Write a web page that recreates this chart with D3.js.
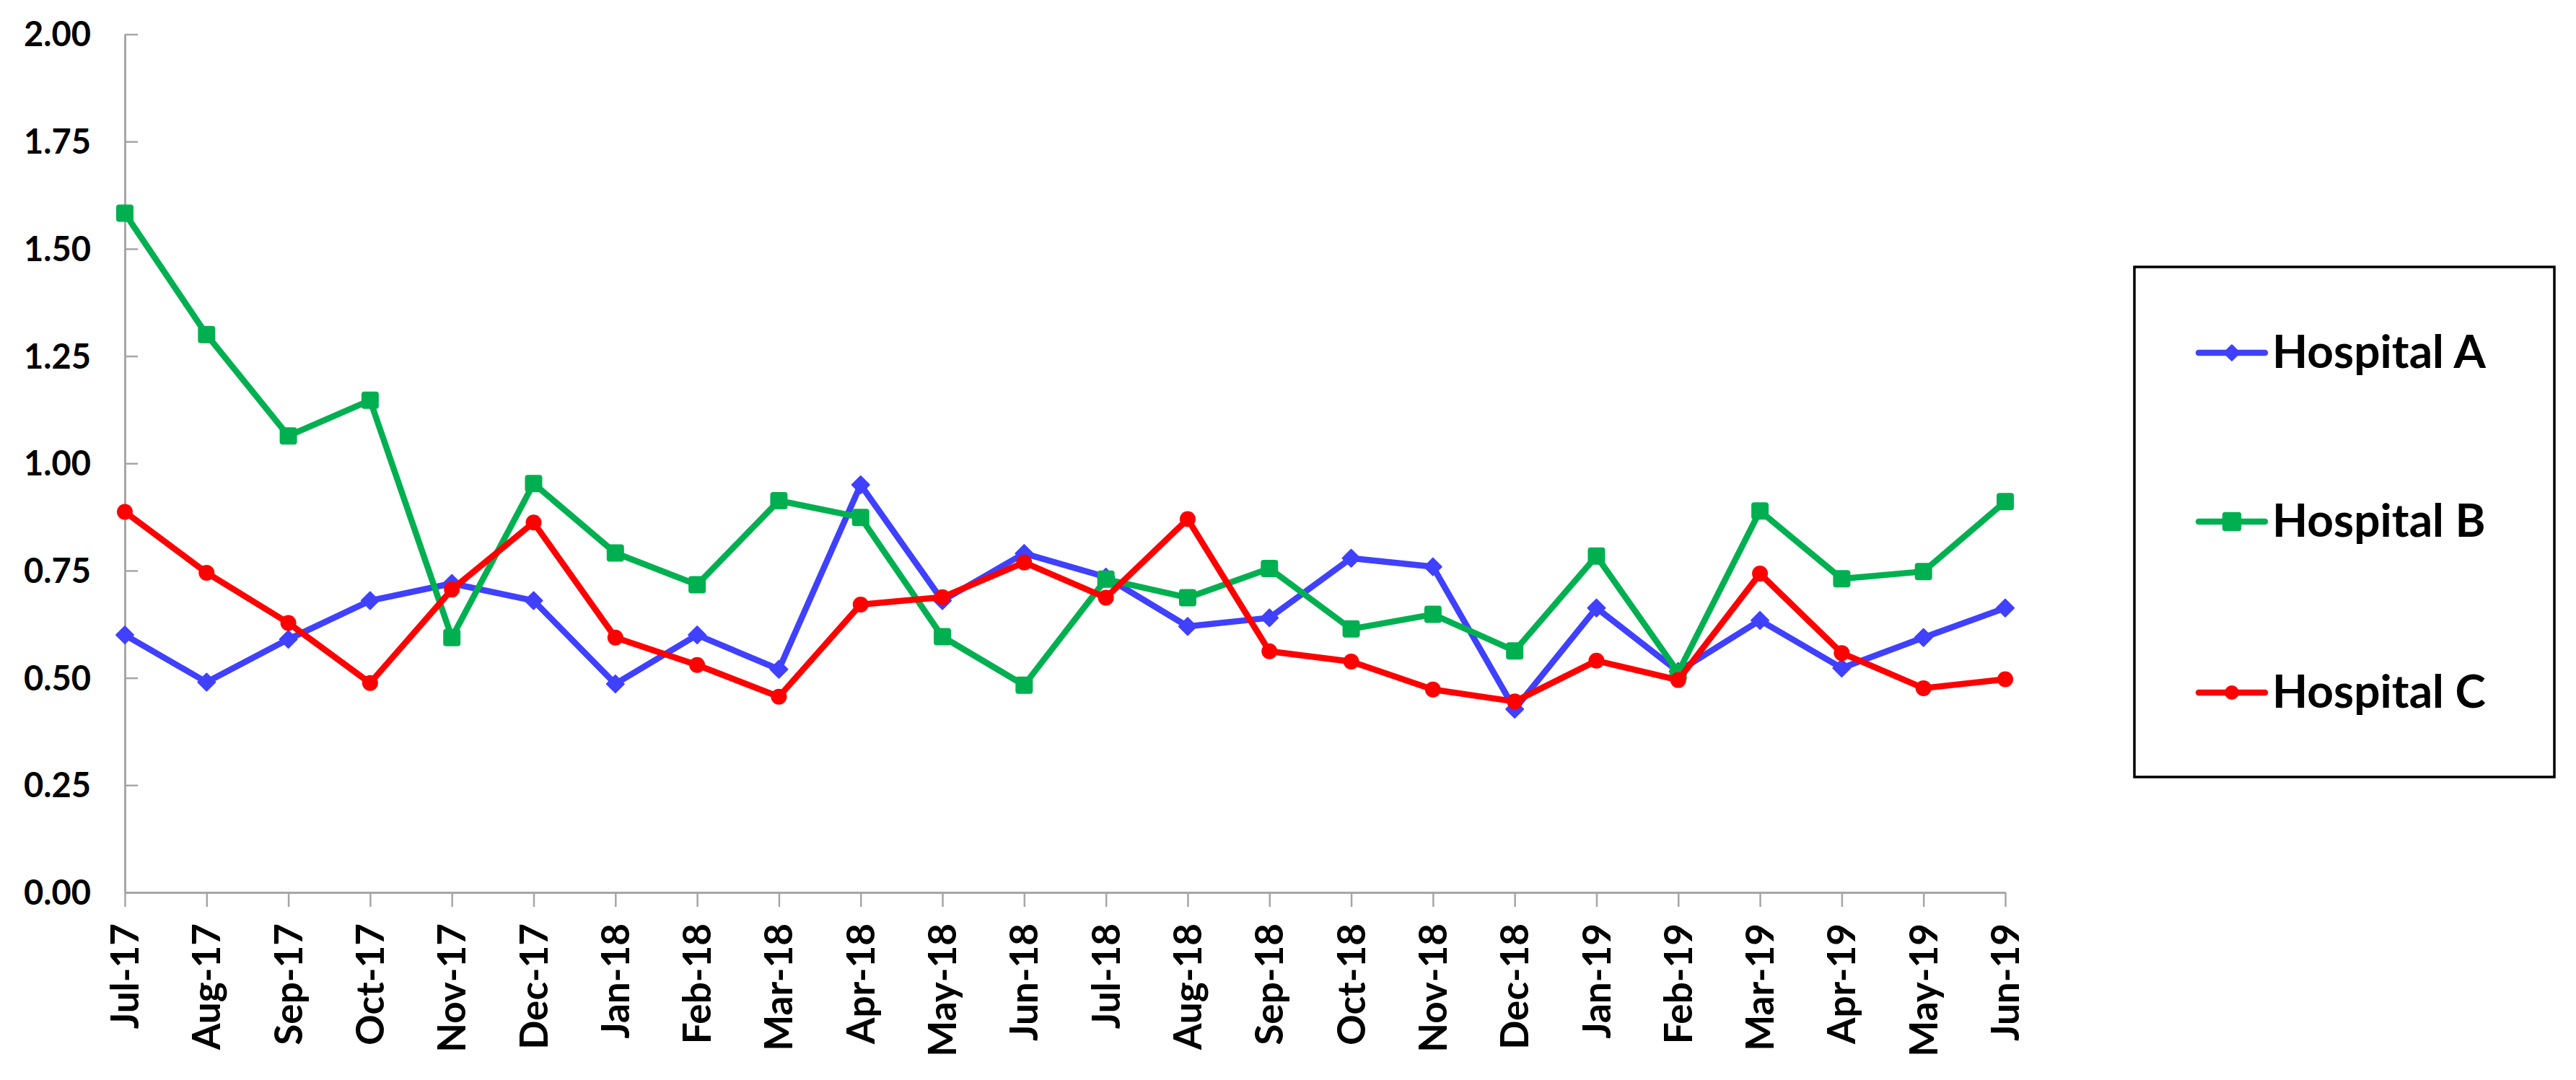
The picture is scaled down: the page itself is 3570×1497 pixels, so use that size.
<!DOCTYPE html>
<html>
<head>
<meta charset="utf-8">
<script src="https://cdn.jsdelivr.net/npm/d3@7"></script>
<style>
  html, body { margin: 0; padding: 0; background: #ffffff; }
  svg { display: block; }
</style>
</head>
<body>
<svg id="chart" width="3570" height="1497"></svg>
<script>
const months = ["Jul-17","Aug-17","Sep-17","Oct-17","Nov-17","Dec-17","Jan-18","Feb-18","Mar-18","Apr-18","May-18","Jun-18",
                "Jul-18","Aug-18","Sep-18","Oct-18","Nov-18","Dec-18","Jan-19","Feb-19","Mar-19","Apr-19","May-19","Jun-19"];
const hospitalA = [0.60,0.49,0.59,0.68,0.72,0.68,0.486,0.60,0.52,0.95,0.68,0.79,0.735,0.62,0.64,0.779,0.759,0.427,0.663,0.515,0.634,0.523,0.594,0.663];
const hospitalB = [1.583,1.30,1.064,1.147,0.594,0.953,0.791,0.717,0.913,0.874,0.596,0.483,0.730,0.687,0.755,0.614,0.648,0.563,0.784,0.513,0.889,0.731,0.748,0.911];
const hospitalC = [0.887,0.745,0.628,0.488,0.706,0.862,0.594,0.530,0.456,0.671,0.688,0.769,0.687,0.870,0.562,0.538,0.473,0.445,0.540,0.495,0.743,0.558,0.476,0.497];
const seriesNames = ["Hospital A","Hospital B","Hospital C"];
const yTicks = [0,0.25,0.5,0.75,1.0,1.25,1.5,1.75,2.0];

const colors = {"Hospital A":"#4040FF","Hospital B":"#00B050","Hospital C":"#FF0000"};
const markers = {"Hospital A":"diamond","Hospital B":"square","Hospital C":"circle"};
const seriesData = [hospitalA, hospitalB, hospitalC];

const svg = d3.select("#chart");
svg.append("rect").attr("width",3570).attr("height",1497).attr("fill","#fff");

const x = d3.scalePoint().domain(months).range([173, 2779]);
const y = d3.scaleLinear().domain([0, 2]).range([1237, 47.5]);

const axisColor = "#A6A6A6";
const labelFont = "Lato, 'Open Sans', sans-serif";

// Y axis
const yAxis = svg.append("g").attr("transform","translate(173,0)")
  .call(d3.axisLeft(y).tickValues(yTicks).tickFormat(d3.format(".2f")).tickSizeInner(-18).tickSizeOuter(0).tickPadding(47));
yAxis.select(".domain").attr("stroke",axisColor).attr("stroke-width",3);
yAxis.selectAll(".tick line").attr("stroke",axisColor).attr("stroke-width",2.5);
yAxis.selectAll(".tick text").attr("fill","#000").attr("font-family",labelFont)
  .attr("font-weight","bold").attr("font-size",47).attr("dy","0.35em");

// X axis
const xAxis = svg.append("g").attr("transform","translate(0,1237)")
  .call(d3.axisBottom(x).tickSizeInner(20).tickSizeOuter(0).tickPadding(0));
xAxis.select(".domain").attr("stroke",axisColor).attr("stroke-width",3);
xAxis.selectAll(".tick line").attr("stroke",axisColor).attr("stroke-width",2.5);
xAxis.selectAll(".tick text")
  .attr("fill","#000").attr("font-family",labelFont).attr("font-weight","bold").attr("font-size",53)
  .attr("text-anchor","end").attr("y",0).attr("dy","0.35em")
  .attr("transform","translate(0,43) rotate(-90)");

// Lines
const line = d3.line().x((d,i)=>x(months[i])).y(d=>y(d));
const sqSize = 24, diaR = 12, circR = 11;

function drawMarker(g, type, cx, cy, color, scale) {
  scale = scale || 1;
  if (type === "square") {
    const s = sqSize*scale;
    g.append("rect").attr("x",cx-s/2).attr("y",cy-s/2).attr("width",s).attr("height",s)
      .attr("rx",4).attr("fill",color);
  } else if (type === "diamond") {
    const r = diaR*scale;
    g.append("path").attr("d",`M${cx},${cy-r}L${cx+r},${cy}L${cx},${cy+r}L${cx-r},${cy}Z`)
      .attr("fill",color).attr("stroke",color).attr("stroke-width",2).attr("stroke-linejoin","round");
  } else {
    g.append("circle").attr("cx",cx).attr("cy",cy).attr("r",circR*scale).attr("fill",color);
  }
}

seriesNames.forEach((name, si) => {
  const data = seriesData[si];
  const g = svg.append("g");
  g.append("path").datum(data).attr("d",line).attr("fill","none")
    .attr("stroke",colors[name]).attr("stroke-width",8.5).attr("stroke-linejoin","round").attr("stroke-linecap","round");
  data.forEach((v,i) => drawMarker(g, markers[name], x(months[i]), y(v), colors[name]));
});

// Legend
const legend = svg.append("g");
legend.append("rect").attr("x",2958).attr("y",370).attr("width",582).attr("height",707)
  .attr("fill","#fff").attr("stroke","#000").attr("stroke-width",3.5);
const legendY = [489, 723, 960];
seriesNames.forEach((name, i) => {
  const ly = legendY[i];
  legend.append("line").attr("x1",3047).attr("x2",3139).attr("y1",ly).attr("y2",ly)
    .attr("stroke",colors[name]).attr("stroke-width",8.5).attr("stroke-linecap","round");
  drawMarker(legend, markers[name], 3093, ly, colors[name], name==="Hospital B" ? 1.1 : 0.9);
  legend.append("text").attr("x",3149).attr("y",ly+21).text(name)
    .attr("font-family",labelFont).attr("font-weight","bold").attr("font-size",64).attr("fill","#000");
});
</script>
</body>
</html>
